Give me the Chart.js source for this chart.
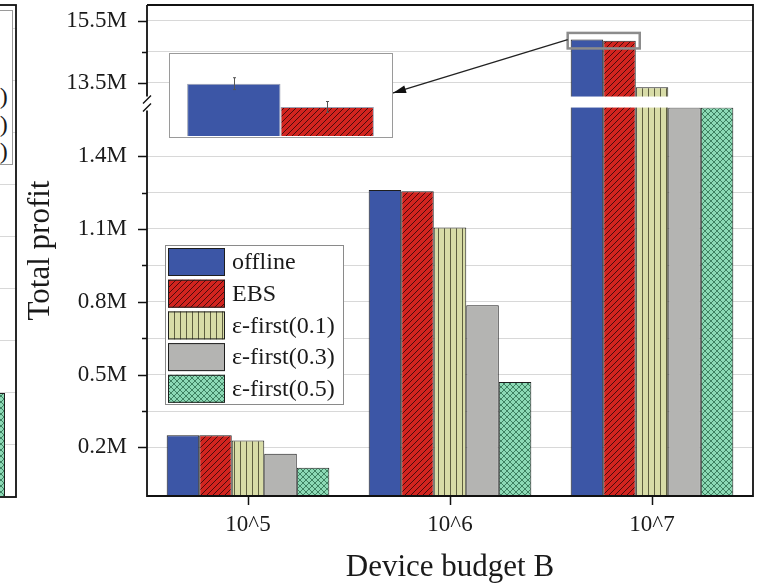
<!DOCTYPE html>
<html>
<head>
<meta charset="utf-8">
<script src="https://cdn.jsdelivr.net/npm/chart.js@4/dist/chart.umd.min.js"></script>
<style>
  html, body { margin: 0; padding: 0; background: #fff; width: 769px; height: 588px; overflow: hidden; }
  #wrap { position: relative; width: 769px; height: 588px; overflow: hidden; }
  #nbCanvas { position: absolute; left: -383px; top: 0; }
  #nbLegend { position: absolute; left: -187px; top: 10px; width: 200px; height: 155px; box-sizing: border-box;
              border: 1px solid #9a9a9a; background: #fff;
              font-family: 'Liberation Serif', 'Times New Roman', serif; font-size: 24px; color: #1a1a1a; }
  #nbLegend div { position: absolute; left: 91px; white-space: nowrap; line-height: 24px; }
  #main { position: absolute; left: 0; top: 0; }
  #inset { position: absolute; left: 169px; top: 53px; width: 224px; height: 85px; box-sizing: border-box;
           border: 1.5px solid #9a9a9a; background: #fff; }
  #insetCanvas { position: absolute; left: 0; top: 0; }
</style>
</head>
<body>
<div id="wrap">
  <canvas id="nbCanvas" width="400" height="588"></canvas>
  <div id="nbLegend"></div>
  <canvas id="main" width="769" height="588"></canvas>
  <div id="inset"><canvas id="insetCanvas" width="221" height="82"></canvas></div>
</div>
<script>
// ---------------- data ----------------
const categories = ['10^5', '10^6', '10^7'];
const seriesNames = ['offline', 'EBS', 'ε-first(0.1)', 'ε-first(0.3)', 'ε-first(0.5)'];
const offline = [0.250e6, 1.260e6, 14.89e6];
const ebs     = [0.250e6, 1.255e6, 14.85e6];
const eps01   = [0.229e6, 1.106e6, 13.35e6];
const eps03   = [0.174e6, 0.786e6, 8.0e6];   // 10^7 value lies inside the axis break (estimated)
const eps05   = [0.116e6, 0.470e6, 5.0e6];   // 10^7 value lies inside the axis break (estimated)
const majorTicks = [0.2e6, 0.5e6, 0.8e6, 1.1e6, 1.4e6, 13.5e6, 15.5e6];
const majorTickLabels = ['0.2M', '0.5M', '0.8M', '1.1M', '1.4M', '13.5M', '15.5M'];
const minorTicks = [0.35e6, 0.65e6, 0.95e6, 1.25e6, 14.5e6];
// inset (zoom of the 10^7 offline / EBS bars)
const insetSeries = [0, 1];                 // offline, EBS
const insetErrors = [0.0102e6, 0.0093e6];
// neighbouring (cut-off) figure on the left edge
const nbCategories = ['10^7'];
const nbValues = [2.0];
const nbLegendNames = ['offline', 'EBS', 'ε-first(0.1)', 'ε-first(0.3)', 'ε-first(0.5)'];

// ---------------- broken axis mapping ----------------
const LOW_MAX = 1.6e6, HIGH_MIN = 13.05e6, HIGH_MAX = 16.0e6;
const GAP = 0.0454e6, HIGH_SCALE = 0.1278;
function toAxis(v) {
  if (v <= LOW_MAX) return v;
  if (v < HIGH_MIN) return LOW_MAX;
  return LOW_MAX + GAP + (v - HIGH_MIN) * HIGH_SCALE;
}
const AXIS_MAX = toAxis(HIGH_MAX);
const ZOOM_RANGE = [14.6e6, 15.1e6];
const INSET_MIN = 14.80e6, INSET_MAX = 14.941e6;

Chart.defaults.font.family = "'Liberation Serif', 'Times New Roman', serif";
Chart.defaults.color = '#1a1a1a';

const mainCtx = document.getElementById('main').getContext('2d');
function pat(bg, size, draw) {
  const c = document.createElement('canvas');
  c.width = size; c.height = size;
  const g = c.getContext('2d');
  g.fillStyle = bg; g.fillRect(0, 0, size, size);
  draw(g, size);
  return mainCtx.createPattern(c, 'repeat');
}
const blue = '#3C56A6';
const redHatch = pat('#D2241F', 6, (g, s) => {
  g.strokeStyle = '#4a0c0c'; g.lineWidth = 1; g.beginPath();
  g.moveTo(-1, s + 1); g.lineTo(s + 1, -1);
  g.moveTo(-1, 1); g.lineTo(1, -1);
  g.moveTo(s - 1, s + 1); g.lineTo(s + 1, s - 1);
  g.stroke();
});
const yellowLines = pat('#D8DCA7', 6, (g, s) => {
  g.strokeStyle = '#5e5e40'; g.lineWidth = 1; g.beginPath();
  g.moveTo(0.5, 0); g.lineTo(0.5, s); g.stroke();
});
const gray = '#B4B4B2';
const mintCross = pat('#8CD9B5', 6, (g, s) => {
  g.strokeStyle = '#2b6b4b'; g.lineWidth = 0.8; g.beginPath();
  g.moveTo(0, 0); g.lineTo(s, s); g.moveTo(0, s); g.lineTo(s, 0); g.stroke();
});
const fills = [blue, redHatch, yellowLines, gray, mintCross];
const seriesValues = [offline, ebs, eps01, eps03, eps05];

const datasets = seriesNames.map((n, i) => ({
  label: n,
  data: seriesValues[i].map(toAxis),
  backgroundColor: fills[i],
  borderColor: '#1e1e1e',
  borderWidth: 1,
  categoryPercentage: 0.805,
  barPercentage: 1.0
}));

const tickList = [{ value: 0, txt: null, grid: false }]
  .concat(majorTicks.map((v, i) => ({ value: toAxis(v), txt: majorTickLabels[i], grid: true, major: true })))
  .concat(minorTicks.map(v => ({ value: toAxis(v), txt: '', grid: true, major: false })))
  .concat([{ value: AXIS_MAX, txt: null, grid: false }])
  .sort((a, b) => a.value - b.value);

const INSET_BOX = { left: 169, top: 53, width: 224, height: 85 };

const decor = {
  id: 'decor',
  afterDatasetsDraw(chart) {
    const { ctx, chartArea: a, scales: { y } } = chart;
    const yb1 = y.getPixelForValue(toAxis(HIGH_MIN));
    const yb2 = y.getPixelForValue(toAxis(LOW_MAX));
    ctx.save();
    ctx.fillStyle = '#fff';
    ctx.fillRect(a.left, yb1, a.right - a.left, yb2 - yb1);
    ctx.restore();
  },
  afterDraw(chart) {
    const { ctx, chartArea: a, scales: { x, y } } = chart;
    const yb1 = y.getPixelForValue(toAxis(HIGH_MIN));
    const yb2 = y.getPixelForValue(toAxis(LOW_MAX));
    ctx.save();
    // tick marks
    ctx.strokeStyle = '#111'; ctx.lineWidth = 1.5;
    ctx.beginPath();
    majorTicks.forEach(v => { const p = Math.round(y.getPixelForValue(toAxis(v))) + 0.5; ctx.moveTo(a.left - 9, p); ctx.lineTo(a.left, p); });
    minorTicks.forEach(v => { const p = Math.round(y.getPixelForValue(toAxis(v))) + 0.5; ctx.moveTo(a.left - 5, p); ctx.lineTo(a.left, p); });
    ctx.stroke();
    // frame
    ctx.lineWidth = 1.8; ctx.strokeStyle = '#111';
    ctx.beginPath();
    ctx.moveTo(a.left, a.top); ctx.lineTo(a.right, a.top); ctx.lineTo(a.right, a.bottom); ctx.lineTo(a.left, a.bottom);
    ctx.lineTo(a.left, yb2 + 3);
    ctx.moveTo(a.left, yb1); ctx.lineTo(a.left, a.top);
    ctx.stroke();
    // break marks
    ctx.lineWidth = 1.4;
    ctx.beginPath();
    ctx.moveTo(a.left - 4, yb1 + 7); ctx.lineTo(a.left + 4, yb1 - 1);
    ctx.moveTo(a.left - 4, yb2 + 4); ctx.lineTo(a.left + 4, yb2 - 4);
    ctx.stroke();
    // zoom rectangle around 10^7 offline/EBS tops
    const m0 = chart.getDatasetMeta(0).data[2], m1 = chart.getDatasetMeta(1).data[2];
    const rL = m0.x - m0.width / 2 - 3, rR = m1.x + m1.width / 2 + 4;
    const rT = y.getPixelForValue(toAxis(ZOOM_RANGE[1])), rB = y.getPixelForValue(toAxis(ZOOM_RANGE[0]));
    ctx.strokeStyle = '#8c8c8c'; ctx.lineWidth = 2.5;
    ctx.strokeRect(rL, rT, rR - rL, rB - rT);
    // arrow to inset
    const sx = rL, sy = (rT + rB) / 2 - 1;
    const ex = INSET_BOX.left + INSET_BOX.width, ey = INSET_BOX.top + 40;
    const ang = Math.atan2(ey - sy, ex - sx);
    ctx.strokeStyle = '#222'; ctx.fillStyle = '#111'; ctx.lineWidth = 1.3;
    ctx.beginPath(); ctx.moveTo(sx, sy); ctx.lineTo(ex + 10 * Math.cos(ang), ey + 10 * Math.sin(ang)); ctx.stroke();
    ctx.beginPath();
    ctx.moveTo(ex, ey);
    ctx.lineTo(ex - 13 * Math.cos(ang) + 4 * Math.sin(ang), ey - 13 * Math.sin(ang) - 4 * Math.cos(ang));
    ctx.lineTo(ex - 13 * Math.cos(ang) - 4 * Math.sin(ang), ey - 13 * Math.sin(ang) + 4 * Math.cos(ang));
    ctx.closePath(); ctx.fill();
    // legend
    const L = { x: 165, y: 245, w: 178, h: 159 };
    ctx.fillStyle = '#fff'; ctx.fillRect(L.x, L.y, L.w, L.h);
    ctx.strokeStyle = '#8a8a8a'; ctx.lineWidth = 1;
    ctx.strokeRect(L.x + 0.5, L.y + 0.5, L.w, L.h);
    chart.data.datasets.forEach((d, i) => {
      const sy0 = L.y + 3 + i * 31.7;
      ctx.fillStyle = d.backgroundColor;
      ctx.fillRect(168, sy0, 57, 28);
      ctx.strokeStyle = '#1e1e1e'; ctx.lineWidth = 1;
      ctx.strokeRect(168.5, sy0 + 0.5, 56, 27);
      ctx.fillStyle = '#1a1a1a';
      ctx.font = "24px 'Liberation Serif', 'Times New Roman', serif";
      ctx.textBaseline = 'middle'; ctx.textAlign = 'left';
      ctx.fillText(d.label, 232, sy0 + 15);
    });
    ctx.restore();
  }
};

new Chart(mainCtx, {
  type: 'bar',
  data: { labels: categories, datasets },
  options: {
    responsive: false, animation: false, devicePixelRatio: 1,
    layout: { padding: { left: 0, right: 16, top: 5, bottom: 0 } },
    plugins: { legend: { display: false }, tooltip: { enabled: false } },
    scales: {
      x: {
        grid: { display: true, drawOnChartArea: false, drawTicks: true, tickLength: 9, tickWidth: 1.5, tickColor: '#111', offset: false },
        border: { display: false },
        ticks: { font: { size: 23 }, color: '#1a1a1a', padding: 6, maxRotation: 0, autoSkip: false },
        title: { display: true, text: 'Device budget B', font: { size: 31 }, color: '#1a1a1a', padding: { top: 0, bottom: 2 } },
        afterFit(s) { s.height = 92; }
      },
      y: {
        min: 0, max: AXIS_MAX,
        afterBuildTicks(s) { s.ticks = tickList.map(t => Object.assign({}, t)); },
        ticks: { callback: (v, i, t) => t[i].txt, font: { size: 23, lineHeight: 0.3 }, color: '#1a1a1a', padding: 0, autoSkip: false },
        grid: { drawTicks: true, tickLength: 20, tickColor: 'rgba(0,0,0,0)', lineWidth: 1,
                color: c => (c.tick && c.tick.grid) ? '#d8d8d8' : 'rgba(0,0,0,0)' },
        border: { display: false },
        title: { display: true, text: 'Total profit', font: { size: 31 }, color: '#1a1a1a', padding: { top: 22, bottom: 0 } },
        afterFit(s) { s.width = 147; }
      }
    }
  },
  plugins: [decor]
});

// ---------------- inset ----------------
const errorBars = {
  id: 'errorBars',
  afterDatasetsDraw(chart) {
    const { ctx, scales: { y } } = chart;
    ctx.save(); ctx.strokeStyle = '#555'; ctx.lineWidth = 1;
    chart.data.datasets.forEach((d, i) => {
      const el = chart.getDatasetMeta(i).data[0];
      const v = d.data[0], e = insetErrors[i];
      const t = y.getPixelForValue(v + e), b = y.getPixelForValue(v - e);
      const xx = Math.round(el.x) + 0.5;
      ctx.beginPath();
      ctx.moveTo(xx, t); ctx.lineTo(xx, b);
      ctx.moveTo(xx - 1.5, t); ctx.lineTo(xx + 1.5, t);
      ctx.moveTo(xx - 1.5, b); ctx.lineTo(xx + 1.5, b);
      ctx.stroke();
    });
    ctx.restore();
  }
};
new Chart(document.getElementById('insetCanvas').getContext('2d'), {
  type: 'bar',
  data: {
    labels: [categories[2]],
    datasets: insetSeries.map(i => ({
      label: seriesNames[i],
      data: [seriesValues[i][2]],
      backgroundColor: fills[i],
      borderColor: '#9aa0b0', borderWidth: 1,
      categoryPercentage: 0.845, barPercentage: 1.0
    }))
  },
  options: {
    responsive: false, animation: false, devicePixelRatio: 1,
    layout: { padding: 0 },
    plugins: { legend: { display: false }, tooltip: { enabled: false } },
    scales: {
      x: { display: false },
      y: { display: false, min: INSET_MIN, max: INSET_MAX }
    }
  },
  plugins: [errorBars]
});

// ---------------- neighbouring figure (cut off at left edge) ----------------
const nbFrame = {
  id: 'nbFrame',
  afterDraw(chart) {
    const { ctx, chartArea: a } = chart;
    ctx.save(); ctx.strokeStyle = '#111'; ctx.lineWidth = 1.8;
    ctx.strokeRect(a.left, a.top, a.right - a.left - 1, a.bottom - a.top);
    ctx.restore();
  }
};
new Chart(document.getElementById('nbCanvas').getContext('2d'), {
  type: 'bar',
  data: {
    labels: nbCategories,
    datasets: [{ label: seriesNames[4], data: nbValues, backgroundColor: mintCross, borderColor: '#1e1e1e', borderWidth: 1,
                 categoryPercentage: 0.94, barPercentage: 1.0 }]
  },
  options: {
    responsive: false, animation: false, devicePixelRatio: 1,
    layout: { padding: { left: 0, right: 0, top: 5, bottom: 91 } },
    plugins: { legend: { display: false }, tooltip: { enabled: false } },
    scales: {
      x: { display: false },
      y: { min: 0, max: 9.46, ticks: { display: false, stepSize: 1 }, border: { display: false },
           grid: { drawTicks: false, color: '#d8d8d8' } }
    }
  },
  plugins: [nbFrame]
});
const nbL = document.getElementById('nbLegend');
nbLegendNames.forEach((n, i) => {
  const d = document.createElement('div');
  d.textContent = n;
  d.style.top = (18 + i * 27.5) + 'px';
  nbL.appendChild(d);
});
</script>
</body>
</html>
